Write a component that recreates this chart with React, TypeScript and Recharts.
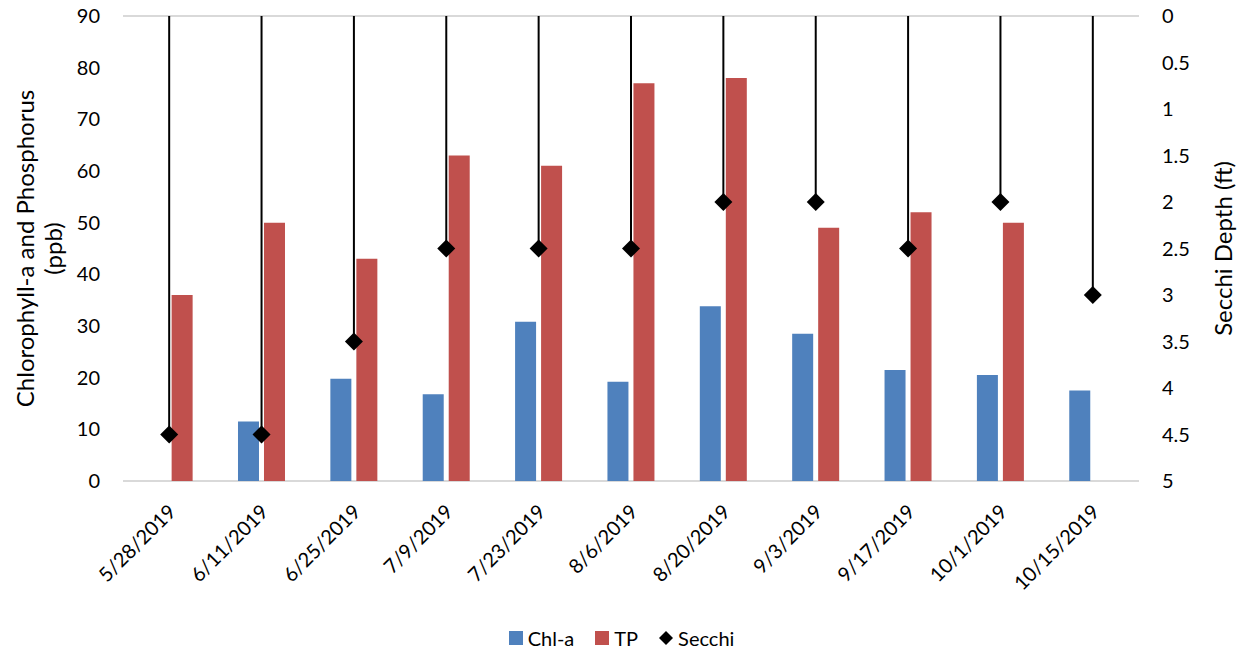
import React from 'react';
import {
  ComposedChart,
  Bar,
  Line,
  ErrorBar,
  XAxis,
  YAxis,
  CartesianGrid,
  Legend
} from 'recharts';

const dates = [
  '5/28/2019', '6/11/2019', '6/25/2019', '7/9/2019', '7/23/2019', '8/6/2019',
  '8/20/2019', '9/3/2019', '9/17/2019', '10/1/2019', '10/15/2019'
];
const chla = [null, 11.5, 19.8, 16.8, 30.8, 19.2, 33.8, 28.5, 21.5, 20.5, 17.5];
const tp = [36, 50, 43, 63, 61, 77, 78, 49, 52, 50, null];
const secchi = [4.5, 4.5, 3.5, 2.5, 2.5, 2.5, 2, 2, 2.5, 2, 3];

const leftTicks = [0, 10, 20, 30, 40, 50, 60, 70, 80, 90];
const rightTicks = [0, 0.5, 1, 1.5, 2, 2.5, 3, 3.5, 4, 4.5, 5];

// secchi is drawn as a drop line from the surface (0) down to the reading
const data = dates.map((date, i) => ({
  date,
  chla: chla[i],
  tp: tp[i],
  secchi: secchi[i],
  secchiSpan: [secchi[i], 0]
}));

const FONT = 'Lato, "Open Sans", sans-serif';
const BLUE = '#4F81BD';
const RED = '#C0504D';
const TEXT = '#000000';

function Diamond(props: any) {
  const { cx, cy } = props;
  if (cx == null || cy == null) return null;
  const r = 9;
  return (
    <path
      d={`M${cx},${cy - r} L${cx + r},${cy} L${cx},${cy + r} L${cx - r},${cy} Z`}
      fill="#000"
    />
  );
}

function DateTick(props: any) {
  const { x, y, payload } = props;
  const tx = x + 8;
  const ty = y + 24;
  return (
    <text
      x={tx}
      y={ty}
      transform={`rotate(-45, ${tx}, ${ty})`}
      textAnchor="end"
      fontSize={20}
      fontFamily={FONT}
      fill={TEXT}
    >
      {payload.value}
    </text>
  );
}

function LeftLabel(props: any) {
  const { viewBox } = props;
  const cy = viewBox.y + viewBox.height / 2;
  const x1 = viewBox.x + 24;
  const x2 = viewBox.x + 52;
  return (
    <g fontSize={24} fontFamily={FONT} fill={TEXT}>
      <text x={x1} y={cy} transform={`rotate(-90, ${x1}, ${cy})`} textAnchor="middle" dominantBaseline="central">
        Chlorophyll-a and Phosphorus
      </text>
      <text x={x2} y={cy} transform={`rotate(-90, ${x2}, ${cy})`} textAnchor="middle" dominantBaseline="central">
        (ppb)
      </text>
    </g>
  );
}

function RightLabel(props: any) {
  const { viewBox } = props;
  const cy = viewBox.y + viewBox.height / 2;
  const x = viewBox.x + 83;
  return (
    <text
      x={x}
      y={cy}
      transform={`rotate(-90, ${x}, ${cy})`}
      textAnchor="middle"
      dominantBaseline="central"
      fontSize={24}
      fontFamily={FONT}
      fill={TEXT}
    >
      Secchi Depth (ft)
    </text>
  );
}

function LegendContent() {
  const items = [
    { name: 'Chl-a', color: BLUE, icon: 'square' },
    { name: 'TP', color: RED, icon: 'square' },
    { name: 'Secchi', color: '#000', icon: 'diamond' }
  ];
  return (
    <div style={{ display: 'flex', justifyContent: 'center', alignItems: 'center', height: 30, fontFamily: FONT, fontSize: 20, color: TEXT }}>
      {items.map((it) => (
        <div key={it.name} style={{ display: 'flex', alignItems: 'center', margin: '0 10px' }}>
          <svg width={16} height={16} style={{ marginRight: 4 }}>
            {it.icon === 'square' ? (
              <rect x={1} y={1} width={14} height={14} fill={it.color} />
            ) : (
              <path d="M8,1 L15,8 L8,15 L1,8 Z" fill={it.color} />
            )}
          </svg>
          <span>{it.name}</span>
        </div>
      ))}
    </div>
  );
}

export default function App() {
  return (
    <div style={{ position: 'absolute', left: 0, top: 0, width: 1242, height: 655, background: '#fff' }}>
      <ComposedChart
        width={1242}
        height={655}
        data={data}
        margin={{ top: 16, right: 0, left: 0, bottom: 0 }}
        barGap={5}
        barCategoryGap="24.5%"
      >
        <CartesianGrid stroke="#d9d9d9" strokeWidth={2} vertical={false} />
        <XAxis
          dataKey="date"
          axisLine={false}
          tickLine={false}
          height={144}
          interval={0}
          tick={<DateTick />}
        />
        <YAxis
          yAxisId="left"
          domain={[0, 90]}
          ticks={leftTicks}
          interval={0}
          width={123}
          axisLine={false}
          tickLine={false}
          tickSize={0}
          tickMargin={23}
          tick={{ fill: TEXT, fontSize: 20, fontFamily: FONT }}
          label={{ content: <LeftLabel /> }}
        />
        <YAxis
          yAxisId="right"
          orientation="right"
          reversed
          domain={[0, 5]}
          ticks={rightTicks}
          interval={0}
          width={103}
          axisLine={false}
          tickLine={false}
          tickSize={0}
          tickMargin={23}
          tick={{ fill: TEXT, fontSize: 20, fontFamily: FONT, textAnchor: 'start' }}
          label={{ content: <RightLabel /> }}
        />
        <Bar yAxisId="left" dataKey="chla" name="Chl-a" fill={BLUE} isAnimationActive={false} />
        <Bar yAxisId="left" dataKey="tp" name="TP" fill={RED} isAnimationActive={false} />
        <Line
          yAxisId="right"
          dataKey="secchi"
          name="Secchi"
          stroke="none"
          dot={<Diamond />}
          activeDot={false}
          isAnimationActive={false}
        >
          <ErrorBar dataKey="secchiSpan" direction="y" width={0} stroke="#000" strokeWidth={2} />
        </Line>
        <Legend verticalAlign="bottom" content={<LegendContent />} wrapperStyle={{ bottom: 2 }} />
      </ComposedChart>
    </div>
  );
}
